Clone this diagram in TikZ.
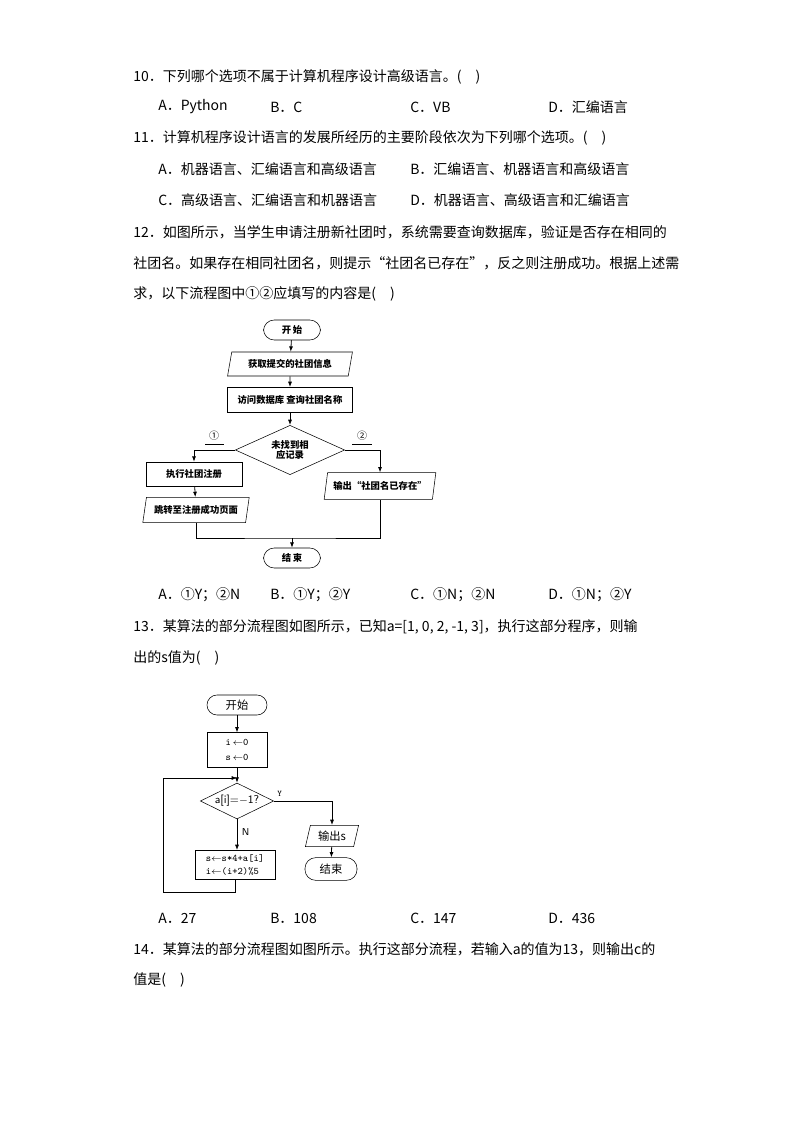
\documentclass[tikz,border=0pt]{standalone}
\usepackage{fontspec}
\setmainfont{Liberation Serif}
\newfontfamily\cjk{Noto Sans CJK SC}
\usetikzlibrary{shapes.geometric,arrows.meta}
\begin{document}
\begin{tikzpicture}[x=0.75pt,y=-0.75pt,font=\cjk\fontsize{10.5}{12}\selectfont,
  txt/.style={anchor=west,inner sep=0pt},
  fc/.style={draw,font=\cjk\fontsize{7}{8}\selectfont\bfseries,inner sep=1pt,align=center},
  fcb/.style={draw,font=\cjk\fontsize{8.5}{11}\selectfont,inner sep=1pt,align=center},
  term/.style={rounded corners=8pt,minimum width=#1},
  para/.style={trapezium,trapezium left angle=75,trapezium right angle=105,trapezium stretches=true},
  dia/.style={diamond,aspect=2.2,inner sep=0pt},
  ar/.style={-{Latex[length=4pt,width=3pt]},line width=0.6pt},
  ln/.style={line width=0.6pt}]
\useasboundingbox (0,0) rectangle (794,1123);
% questions
\node[txt] (q10) at (133,77) {10．下列哪个选项不属于计算机程序设计高级语言。(\quad )};
\node[txt] (q10a) at (158,107) {A．Python};
\node[txt] (q10b) at (270,107) {B．C};
\node[txt] (q10c) at (410,107) {C．VB};
\node[txt] (q10d) at (548,107) {D．汇编语言};
\node[txt] (q11) at (133,138) {11．计算机程序设计语言的发展所经历的主要阶段依次为下列哪个选项。(\quad )};
\node[txt] (q11a) at (158,169) {A．机器语言、汇编语言和高级语言};
\node[txt] (q11b) at (410,169) {B．汇编语言、机器语言和高级语言};
\node[txt] (q11c) at (158,200) {C．高级语言、汇编语言和机器语言};
\node[txt] (q11d) at (410,200) {D．机器语言、高级语言和汇编语言};
\node[txt] (q12a) at (133,232) {12．如图所示，当学生申请注册新社团时，系统需要查询数据库，验证是否存在相同的};
\node[txt] (q12b) at (133,263) {社团名。如果存在相同社团名，则提示“社团名已存在”，反之则注册成功。根据上述需};
\node[txt] (q12c) at (133,294) {求，以下流程图中①②应填写的内容是(\quad )};
\node[txt] (c12a) at (158,595) {A．①Y；②N};
\node[txt] (c12b) at (270,595) {B．①Y；②Y};
\node[txt] (c12c) at (410,595) {C．①N；②N};
\node[txt] (c12d) at (548,595) {D．①N；②Y};
\node[txt] (q13a) at (133,627) {13．某算法的部分流程图如图所示，已知a=[1, 0, 2, -1, 3]，执行这部分程序，则输};
\node[txt] (q13b) at (133,658) {出的s值为(\quad )};
\node[txt] (c13a) at (158,918) {A．27};
\node[txt] (c13b) at (270,918) {B．108};
\node[txt] (c13c) at (410,918) {C．147};
\node[txt] (c13d) at (548,918) {D．436};
\node[txt] (q14a) at (133,949) {14．某算法的部分流程图如图所示。执行这部分流程，若输入a的值为13，则输出c的};
\node[txt] (q14b) at (133,980) {值是(\quad )};
% flowchart 1
\node[fc,term=57*0.75pt,minimum height=15pt] (s1) at (292,330) {开\,始};
\node[fc,para,minimum width=94pt,minimum height=18pt] (p1) at (290,364) {获取提交的社团信息};
\node[fc,minimum width=94pt,minimum height=19pt] (r1) at (290,400) {访问数据库 查询社团名称};
\node[fc,dia,minimum width=82pt,minimum height=37pt] (d1) at (290,450) {未找到相\\应记录};
\node[fc,minimum width=72pt,minimum height=18pt] (r2) at (194,474) {执行社团注册};
\node[fc,para,minimum width=80pt,minimum height=19pt] (p2) at (196,510) {跳转至注册成功页面};
\node[fc,para,minimum width=84pt,minimum height=20pt] (p3) at (380,486) {输出“社团名已存在”};
\node[fc,term=57*0.75pt,minimum height=15pt] (e1) at (292,558) {结\,束};
\coordinate (j1) at (292,538);
\draw[ar] (s1) -- (p1);
\draw[ar] (p1) -- (r1);
\draw[ar] (r1) -- (d1);
\draw[ar] (d1.west) -| (r2.north);
\draw[ar] (d1.east) -| (p3.north);
\draw[ar] (r2) -- (p2);
\draw[ln] (p2.south) |- (j1) -| (p3.south);
\draw[ar] (j1) -- (e1);
\node[font=\cjk\fontsize{7.5}{8}\selectfont] (l1) at (214,436) {①};
\draw[ln] (205,444) -- (224,444);
\node[font=\cjk\fontsize{7.5}{8}\selectfont] (l2) at (362,436) {②};
\draw[ln] (352,444) -- (372,444);
% flowchart 2
\node[fcb,term=60*0.75pt,minimum height=15pt,rounded corners=7.5pt] (s2) at (237,705) {开始};
\node[fcb,minimum width=45pt,minimum height=26pt,font=\ttfamily\fontsize{7.5}{11}\selectfont] (r3) at (237,750) {i\,$\leftarrow$0\\s\,$\leftarrow$0};
\node[fcb,dia,aspect=2.1,minimum width=55pt,minimum height=27pt] (d2) at (237,801) {\sffamily a[i]=$-$1?};
\node[fcb,minimum width=60pt,minimum height=22pt,font=\ttfamily\fontsize{7.5}{10}\selectfont,align=left] (r4) at (235,865) {s$\leftarrow$s*4+a[i]\\i$\leftarrow$(i+2)\%5};
\node[fcb,para,minimum width=40pt,minimum height=16pt] (p4) at (332,836) {输出s};
\node[fcb,term=52*0.75pt,minimum height=17pt,rounded corners=8pt] (e2) at (331,869) {结束};
\coordinate (m2) at (237,778);
\draw[ar] (s2) -- (r3);
\draw[ar] (r3) -- (d2);
\draw[ar] (d2) -- (r4.north -| d2) node[pos=0.4,right,font=\sffamily\fontsize{7.5}{8}\selectfont] (nl) {N};
\draw[ar] (r4.south) |- (163,892) -- (163,778) -- (m2);
\draw[ar] (d2.east) -| (p4.north) node[pos=0.05,above,font=\ttfamily\fontsize{6.5}{7}\selectfont] (yl) {Y};
\draw[ar] (p4) -- (e2);
\end{tikzpicture}
\end{document}
